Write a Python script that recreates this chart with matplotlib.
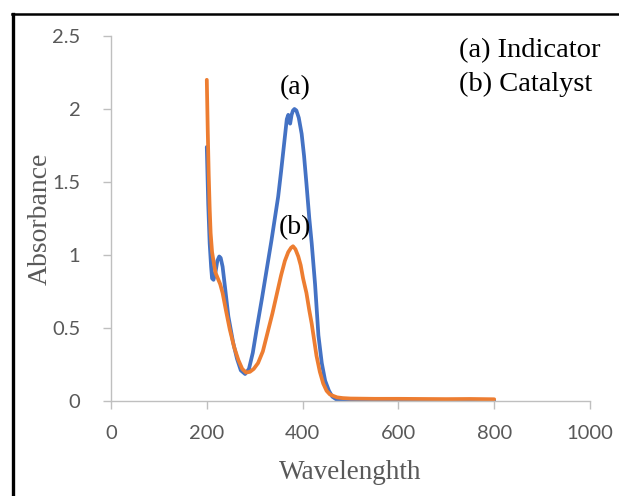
import matplotlib.pyplot as plt
from matplotlib.lines import Line2D

# wavelength (nm) and absorbance
wl_indicator = [200, 203, 206, 209, 211, 214, 218, 222, 226, 229, 233, 238, 245,
                255, 263, 271, 280, 288, 296, 304, 315, 325, 335, 342, 349, 355,
                360, 364, 367, 370, 372, 374, 377, 380, 383, 387, 392, 398, 403,
                408, 414, 419, 426, 433, 440, 447, 455, 462, 470, 480, 500, 550,
                600, 650, 700, 750, 800]
abs_indicator = [1.74, 1.35, 1.08, 0.92, 0.84, 0.83, 0.88, 0.96, 0.99, 0.98, 0.92,
                 0.78, 0.58, 0.40, 0.29, 0.21, 0.185, 0.22, 0.33, 0.49, 0.70, 0.90,
                 1.10, 1.25, 1.40, 1.57, 1.72, 1.84, 1.93, 1.96, 1.91, 1.90, 1.96,
                 1.99, 2.00, 1.99, 1.94, 1.83, 1.68, 1.49, 1.25, 1.08, 0.80, 0.45,
                 0.26, 0.14, 0.07, 0.03, 0.012, 0.005, 0.003, 0.003, 0.002, 0.002,
                 0.002, 0.002, 0.002]

wl_catalyst = [200, 202, 204, 206, 208, 211, 214, 218, 223, 228, 233, 240, 248,
               257, 266, 274, 282, 290, 298, 307, 317, 327, 337, 346, 355, 363,
               370, 376, 380, 385, 391, 396, 401, 408, 414, 419, 424, 429, 436,
               443, 450, 457, 464, 472, 484, 500, 550, 600, 650, 700, 750, 800]
abs_catalyst = [2.20, 1.85, 1.55, 1.32, 1.15, 1.02, 0.96, 0.88, 0.84, 0.80, 0.74,
                0.62, 0.49, 0.37, 0.28, 0.22, 0.195, 0.20, 0.22, 0.26, 0.34, 0.47,
                0.60, 0.73, 0.86, 0.96, 1.02, 1.05, 1.06, 1.04, 0.99, 0.93, 0.84,
                0.74, 0.62, 0.53, 0.42, 0.31, 0.20, 0.12, 0.07, 0.045, 0.035, 0.025,
                0.02, 0.017, 0.015, 0.015, 0.014, 0.013, 0.014, 0.012]

x_ticks = [0, 200, 400, 600, 800, 1000]
y_ticks = [0, 0.5, 1, 1.5, 2, 2.5]
y_tick_labels = ['0', '0.5', '1', '1.5', '2', '2.5']

gray = '#595959'
axis_gray = '#bfbfbf'

fig = plt.figure(figsize=(6.19, 4.96), dpi=100)
ax = fig.add_axes([0.1793, 0.1915, 0.7739, 0.7359])

ax.plot(wl_indicator, abs_indicator, color='#4472C4', lw=2.7,
        solid_joinstyle='round', solid_capstyle='round')
ax.plot(wl_catalyst, abs_catalyst, color='#ED7D31', lw=2.7,
        solid_joinstyle='round', solid_capstyle='round')

ax.set_xlim(0, 1000)
ax.set_ylim(0, 2.5)
ax.set_xticks(x_ticks)
ax.set_yticks(y_ticks)
ax.set_yticklabels(y_tick_labels)

for side in ['top', 'right']:
    ax.spines[side].set_visible(False)
for side in ['left', 'bottom']:
    ax.spines[side].set_color(axis_gray)
    ax.spines[side].set_linewidth(1.0)

ax.tick_params(axis='both', colors=axis_gray, length=6, width=1.0,
               labelcolor=gray, labelsize=14.5)
ax.tick_params(axis='x', pad=11)
ax.tick_params(axis='y', pad=16)
for lab in ax.get_xticklabels() + ax.get_yticklabels():
    lab.set_fontfamily('Lato')

ax.set_xlabel('Wavelenghth', family='Liberation Serif', fontsize=19.5,
              color=gray, labelpad=13)
ax.set_ylabel('Absorbance', family='Liberation Serif', fontsize=20,
              color=gray, va='center')
ax.yaxis.set_label_coords(-0.148, 0.5)

# peak labels
ax.text(384, 2.06, '(a)', family='Liberation Serif', fontsize=20,
        ha='center', va='bottom', color='black')
ax.text(385, 1.10, '(b)', family='Liberation Serif', fontsize=20,
        ha='center', va='bottom', color='black')

# legend-like text block
fig.text(0.742, 0.898, '(a) Indicator', family='Liberation Serif', fontsize=20.5,
         ha='left', va='center')
fig.text(0.742, 0.83, '(b) Catalyst', family='Liberation Serif', fontsize=20.5,
         ha='left', va='center')

# black frame on the top and left edges
fig.add_artist(Line2D([0.021, 0.021], [0.0, 0.972], color='black', lw=2.4,
                      transform=fig.transFigure))
fig.add_artist(Line2D([0.019, 1.0], [0.972, 0.972], color='black', lw=1.8,
                      transform=fig.transFigure))

plt.savefig('out.png', dpi=100)
